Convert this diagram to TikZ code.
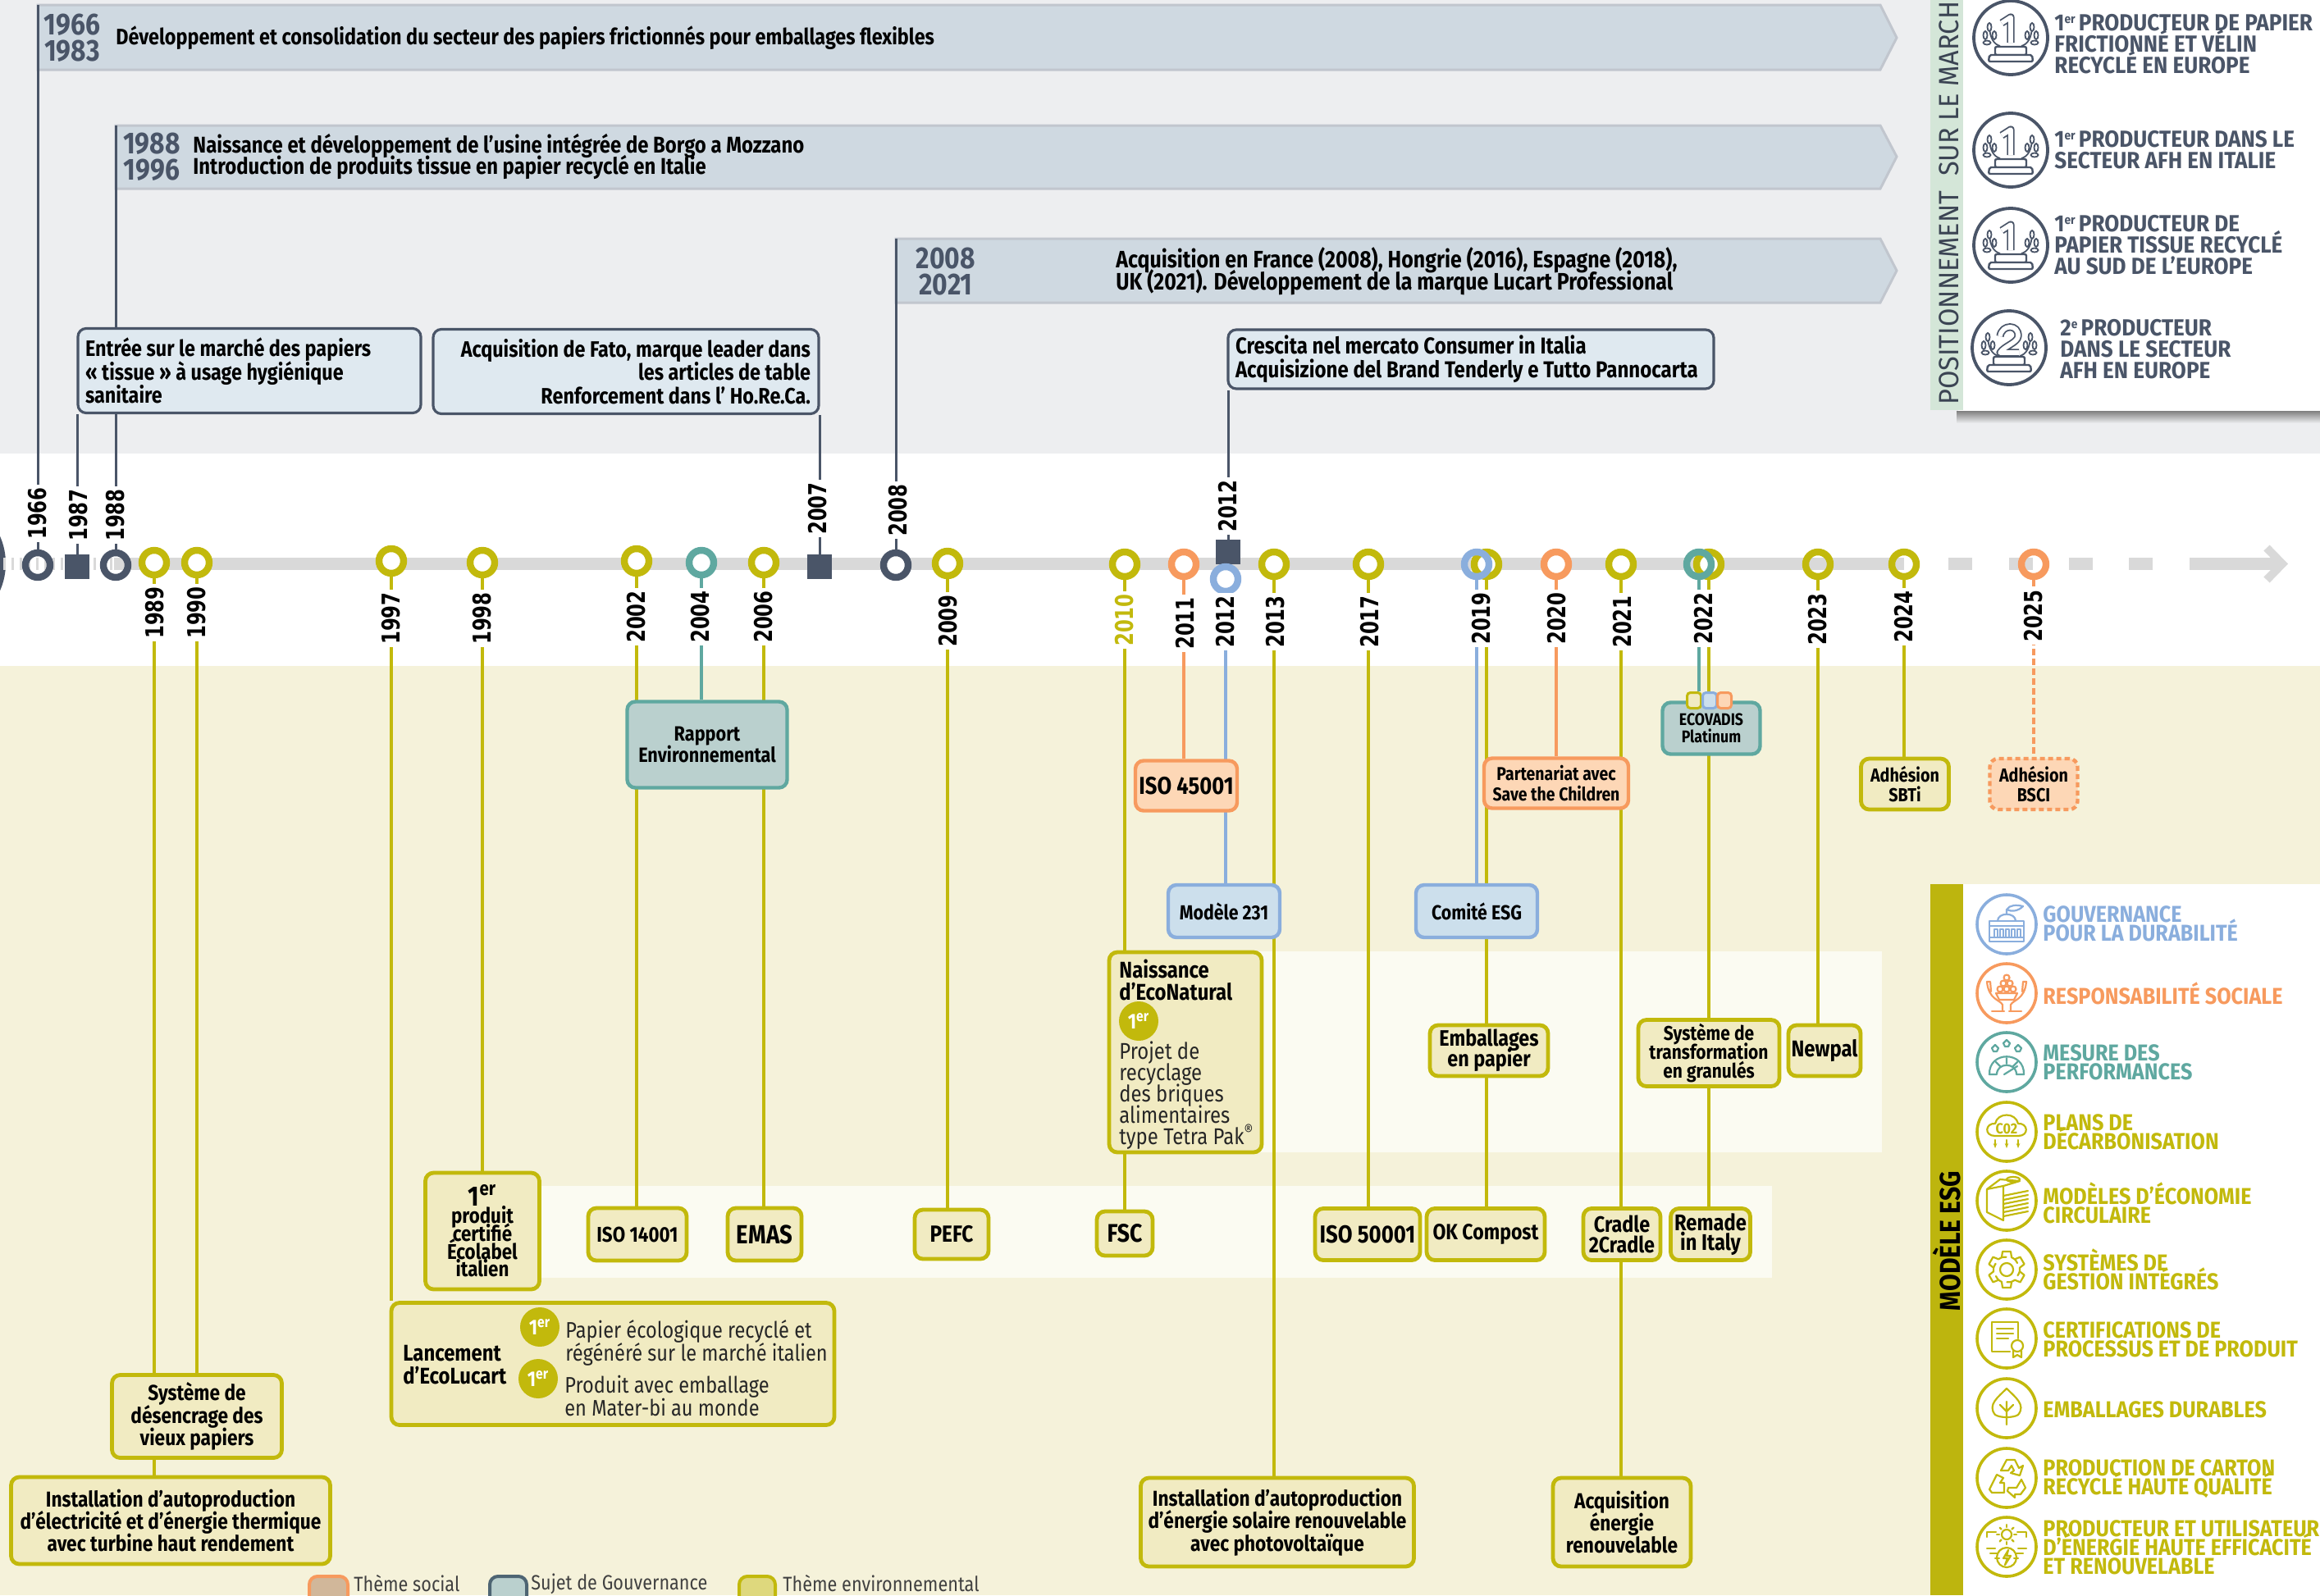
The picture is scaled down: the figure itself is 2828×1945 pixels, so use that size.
\documentclass[tikz,border=0pt]{standalone}
\usepackage{fontspec}
\setmainfont[FakeStretch=0.86]{Fira Sans}
\newfontfamily\yearfont[FakeStretch=0.76]{DejaVu Sans}
\newfontfamily\panelfont[FakeStretch=0.92]{Fira Sans}
\newfontfamily\posfont[FakeStretch=0.955]{Fira Sans}
\newfontfamily\esgfont[FakeStretch=0.90]{Fira Sans}
\usetikzlibrary{arrows.meta}
\definecolor{slate}{HTML}{4A5568}
\definecolor{olive}{HTML}{C2B90C}
\definecolor{olivefill}{HTML}{F1EBC2}
\definecolor{strip}{HTML}{BDB50E}
\definecolor{orange}{HTML}{F79A5E}
\definecolor{orangefill}{HTML}{FDD7B6}
\definecolor{sky}{HTML}{8AAEDD}
\definecolor{skyfill}{HTML}{CCDFEC}
\definecolor{teal}{HTML}{5FA8A0}
\definecolor{tealfill}{HTML}{BAD0CE}
\definecolor{topband}{HTML}{EDEEF0}
\definecolor{lowband}{HTML}{F5F2DA}
\definecolor{paleband}{HTML}{FBFBF2}
\definecolor{chevfill}{HTML}{CFD9E1}
\definecolor{chevline}{HTML}{C1C6CE}
\definecolor{topfill}{HTML}{DFE9F0}
\definecolor{axisgrey}{HTML}{D9D9D9}
\definecolor{posband}{HTML}{D4E6D8}
\pgfdeclarelayer{bands}
\pgfdeclarelayer{links}
\pgfsetlayers{bands,links,main}
\newcommand{\tinysup}[1]{\raisebox{.62ex}{\fontsize{7.5}{7.5}\selectfont #1}\hspace{-1pt}}
\newcommand{\fsp}[2]{\fontsize{#1}{#2}\selectfont\lineskiplimit=-20pt\relax}
\newcommand{\fsz}[2]{\fsp{#1}{#2}\bfseries}
\tikzset{
    size/.style 2 args={minimum width=#1*0.5pt, minimum height=#2*0.5pt},
    boxbase/.style={rectangle, rounded corners=5pt, inner sep=0pt, align=center,
        text=black, font=\fsz{13.2}{13.6}},
    greenbox/.style={boxbase, draw=olive, fill=olivefill, line width=2.4pt},
    peachbox/.style={boxbase, draw=orange, fill=orangefill, line width=2.2pt},
    bluebox/.style={boxbase, draw=sky, fill=skyfill, line width=2.2pt},
    tealbox/.style={boxbase, draw=teal, fill=tealfill, line width=2.2pt},
    topbox/.style={boxbase, draw=slate, fill=topfill, line width=1.6pt,
        font=\fsz{13.6}{14.4}},
    tag/.style={rectangle, rounded corners=2pt, inner sep=0pt, line width=1.5pt,
        minimum width=8.5pt, minimum height=9.5pt},
    ring/.style={circle, draw=#1, line width=4.2pt, minimum size=15pt, inner sep=0pt},
    squaremark/.style={rectangle, fill=slate, minimum size=15pt, inner sep=0pt},
    yearlabel/.style={rotate=90, fill=white, inner sep=1.5pt, text=black,
        font=\yearfont\fsz{15}{15}},
    glink/.style={draw=olive, line width=1.7pt},
    olink/.style={draw=orange, line width=1.6pt},
    blink/.style={draw=sky, line width=1.6pt},
    tlink/.style={draw=teal, line width=1.6pt},
    slink/.style={draw=slate, line width=1.5pt},
    chevron/.style={fill=chevfill, draw=chevline, line width=1.5pt},
    cheyear/.style={text=slate, inner sep=0pt, align=center, font=\fsz{18.5}{16}},
    chetext/.style={text=black, anchor=west, inner sep=0pt, align=left, font=\fsz{13.6}{14}},
    badge/.style={circle, fill=olive, text=white, minimum size=24pt, inner sep=0pt,
        font=\fsz{13}{13}},
    plaintext/.style={anchor=west, inner sep=0pt, align=left, text=black!85,
        font=\fsp{13.7}{14}},
    boldtext/.style={anchor=west, inner sep=0pt, align=left, text=black, font=\fsz{13.9}{13.6}},
    rank/.style={anchor=west, inner sep=0pt, align=left, text=slate,
        font=\panelfont\fsz{14.2}{13}},
    esgtext/.style={anchor=west, inner sep=0pt, align=left, text=#1,
        font=\esgfont\fsz{14}{11.5}},
    esgdisc/.style={circle, draw=#1, line width=1.8pt, fill=white, minimum size=36pt, inner sep=0pt},
    legendtext/.style={anchor=west, inner sep=0pt, text=black!75,
        font=\fontsize{12.6}{12}\selectfont},
    icon/.style={line width=1.1pt, line join=round, line cap=round},
    medal/.pic={
        \draw[slate, line width=1.9pt, fill=white] (0,0) circle (45);
        \draw[slate, line width=4.6pt, line join=round] #1;
        \draw[white, line width=2.8pt, line join=round] #1;
        \draw[slate, line width=1.2pt, fill=white, rounded corners=1pt] (-19,11) rectangle (19,21);
        \draw[slate, line width=1.2pt, fill=white, rounded corners=1pt] (-26,21) -- (26,21) -- (27,29) -- (-27,29) -- cycle;
        \foreach \side in {-1,1} {
            \draw[slate, line width=.9pt] (\side*13,10) .. controls (\side*21,8) and (\side*25,0) .. (\side*26,-12);
            \draw[slate, line width=.9pt, fill=white] (\side*26,-13) ellipse (2.5 and 5);
            \draw[slate, line width=.9pt, fill=white] (\side*31,-3) ellipse (2.5 and 5);
            \draw[slate, line width=.9pt, fill=white] (\side*20,-3) ellipse (2.5 and 5);
            \draw[slate, line width=.9pt, fill=white] (\side*29,6) ellipse (4.5 and 2.5);
        }
    }
}
\begin{document}
\begin{tikzpicture}[x=0.5pt, y=-0.5pt]
    \useasboundingbox (0,0) rectangle (2828,1945);
    \clip (0,0) rectangle (2828,1945);

    % background bands
    \begin{pgfonlayer}{bands}
    \fill[white] (0,0) rectangle (2828,1945);
    \fill[topband] (0,0) rectangle (2828,553);
    \fill[lowband] (0,812) rectangle (2828,1945);
    \fill[paleband] (1400,1160) rectangle (2294,1405);
    \fill[paleband] (640,1446) rectangle (2160,1558);
    \fill[slate] (-75,687) circle (82);

    % long periods
    \path[chevron] (46,6) -- (2292,6) -- (2312,46) -- (2292,85) -- (46,85) -- cycle;
    \path[chevron] (141,153) -- (2292,153) -- (2312,191) -- (2292,230) -- (141,230) -- cycle;
    \path[chevron] (1092,291) -- (2292,291) -- (2312,330) -- (2292,369) -- (1092,369) -- cycle;

    % axis
    \foreach \xx in {4,14,...,134} {
        \fill[axisgrey] (\xx,680) rectangle (\xx+3,695);
    }
    \fill[axisgrey] (139,680) rectangle (2321,695);
    \foreach \xx in {2375,2449,2522,2595} {
        \fill[axisgrey] (\xx,680) rectangle (\xx+29,695);
    }
    \fill[axisgrey] (2669,680) rectangle (2782,695);
    \draw[axisgrey, line width=5pt, miter limit=4] (2763,668) -- (2782,687.5) -- (2763,707);
    \end{pgfonlayer}

    \coordinate (start1966) at (46,6);
    \coordinate (start1988) at (141,153);
    \coordinate (start2008) at (1092,291);

    \node[cheyear] (per1966) at (88,46) {1966\\1983};
    \node[chetext] (txt1966) at (141,46) {Développement et consolidation du secteur des papiers frictionnés pour emballages flexibles};
    \node[cheyear] (per1988) at (185,191) {1988\\1996};
    \node[chetext, font=\fsz{13.9}{13.4}] (txt1988) at (235,191) {Naissance et développement de l’usine intégrée de Borgo a Mozzano\\Introduction de produits tissue en papier recyclé en Italie};
    \node[cheyear] (per2008) at (1153,331) {2008\\2021};
    \node[chetext, font=\fsz{14.5}{13.6}] (txt2008) at (1360,331) {Acquisition en France (2008), Hongrie (2016), Espagne (2018),\\UK (2021). Développement de la marque Lucart Professional};

    % upper boxes
    \node[topbox, size={418}{103}, align=flush left, text width=200pt] (entree) at (304,452) {Entrée sur le marché des papiers\\« tissue » à usage hygiénique\\sanitaire};
    \node[topbox, size={470}{103}, align=flush right, text width=225pt] (fato) at (763,453) {Acquisition de Fato, marque leader dans\\les articles de table\\Renforcement dans l’ Ho.Re.Ca.};
    \node[topbox, size={592}{72}, align=flush left, text width=287pt, font=\fsz{14}{14.6}] (crescita) at (1793,438) {Crescita nel mercato Consumer in Italia\\Acquisizione del Brand Tenderly e Tutto Pannocarta};

    % markers on the axis
    \node[ring=slate] (y1966) at (46,689) {};
    \node[squaremark] (y1987) at (94,691) {};
    \node[ring=slate] (y1988) at (141,689) {};
    \node[ring=olive, fill=white] (y1989) at (188,686) {};
    \node[ring=olive, fill=white] (y1990) at (240,686) {};
    \node[ring=olive, fill=white] (y1997) at (477,684) {};
    \node[ring=olive, fill=white] (y1998) at (588,686) {};
    \node[ring=olive, fill=white] (y2002) at (776,684) {};
    \node[ring=teal, fill=white] (y2004) at (855,686) {};
    \node[ring=olive, fill=white] (y2006) at (931,686) {};
    \node[squaremark] (y2007) at (999,691) {};
    \node[ring=slate, fill=white] (y2008) at (1092,689) {};
    \node[ring=olive, fill=white] (y2009) at (1155,687) {};
    \node[ring=olive, fill=white] (y2010) at (1371,688) {};
    \node[ring=orange, fill=white] (y2011) at (1443,688) {};
    \node[squaremark] (y2012a) at (1497,673) {};
    \node[ring=sky, fill=white] (y2012b) at (1494,706) {};
    \node[ring=olive, fill=white] (y2013) at (1553,688) {};
    \node[ring=olive, fill=white] (y2017) at (1668,688) {};
    \node[ring=olive, fill=white] (y2019b) at (1812,688) {};
    \node[ring=sky] (y2019a) at (1800,688) {};
    \node[ring=orange, fill=white] (y2020) at (1897,688) {};
    \node[ring=olive, fill=white] (y2021) at (1976,688) {};
    \node[ring=olive, fill=white] (y2022b) at (2083,688) {};
    \node[ring=teal] (y2022a) at (2071,688) {};
    \node[ring=olive] (y2023) at (2216,688) {};
    \node[ring=olive] (y2024) at (2321,688) {};
    \node[ring=orange] (y2025) at (2479,688) {};

    % years
    \node[yearlabel] (t1966) at (46,626) {1966};
    \node[yearlabel] (t1987) at (96,628) {1987};
    \node[yearlabel] (t1988) at (141,628) {1988};
    \node[yearlabel] (t1989) at (189,747) {1989};
    \node[yearlabel] (t1990) at (240,747) {1990};
    \node[yearlabel] (t1997) at (477,754) {1997};
    \node[yearlabel] (t1998) at (588,754) {1998};
    \node[yearlabel] (t2002) at (776,752) {2002};
    \node[yearlabel] (t2004) at (854,752) {2004};
    \node[yearlabel] (t2006) at (931,752) {2006};
    \node[yearlabel] (t2007) at (997,620) {2007};
    \node[yearlabel] (t2008) at (1095,622) {2008};
    \node[yearlabel] (t2009) at (1156,757) {2009};
    \node[yearlabel, text=olive] (t2010) at (1371,756) {2010};
    \node[yearlabel] (t2011) at (1445,760) {2011};
    \node[yearlabel] (t2012a) at (1497,617) {2012};
    \node[yearlabel] (t2012b) at (1494,758) {2012};
    \node[yearlabel] (t2013) at (1555,758) {2013};
    \node[yearlabel] (t2017) at (1670,758) {2017};
    \node[yearlabel] (t2019) at (1806,754) {2019};
    \node[yearlabel] (t2020) at (1898,754) {2020};
    \node[yearlabel] (t2021) at (1978,758) {2021};
    \node[yearlabel] (t2022) at (2077,754) {2022};
    \node[yearlabel] (t2023) at (2216,755) {2023};
    \node[yearlabel] (t2024) at (2321,752) {2024};
    \node[yearlabel] (t2025) at (2479,751) {2025};

    % lower boxes
    \node[tealbox, size={195}{105}, font=\fsz{12.6}{13.2}] (rapport) at (862,908) {Rapport\\Environnemental};
    \node[peachbox, size={124}{61}, font=\fsz{14.9}{14}] (iso45001) at (1446,958) {ISO 45001};
    \node[peachbox, size={176}{61}, font=\fsz{11.3}{12.2}] (partenariat) at (1897,955) {Partenariat avec\\Save the Children};
    \node[tealbox, size={119}{63}, font=\fsz{10.3}{10.6}] (ecovadis) at (2086,888) {ECOVADIS\\Platinum};
    \node[tag, draw=olive, fill=olivefill] (tagg) at (2065,854) {};
    \node[tag, draw=sky, fill=skyfill] (tagb) at (2084,854) {};
    \node[tag, draw=orange, fill=orangefill] (tago) at (2102,854) {};
    \node[greenbox, size={107}{62}, font=\fsz{11.5}{12.4}] (sbti) at (2322,956) {Adhésion\\SBTi};
    \node[peachbox, dash pattern=on 3pt off 2pt, size={107}{62}, font=\fsz{11.5}{12.4}] (bsci) at (2479,956) {Adhésion\\BSCI};
    \node[bluebox, size={136}{64}, font=\fsz{12.4}{12.4}] (modele) at (1492,1111) {Modèle 231};
    \node[bluebox, size={148}{64}, font=\fsz{12.4}{12.4}] (comite) at (1800,1111) {Comité ESG};
    \node[greenbox, size={186}{244}] (econatural) at (1445,1283) {};
    \node[boldtext] (econame) at (1364,1195) {Naissance\\d’EcoNatural};
    \node[badge] (ecobadge) at (1388,1245) {1\textsuperscript{er}};
    \node[plaintext, font=\fsp{13.9}{13}] (ecotext) at (1364,1336) {Projet de\\recyclage\\des briques\\alimentaires\\type Tetra Pak\textsuperscript{®}};
    \node[greenbox, size={144}{62}, font=\fsz{13.6}{12.6}] (emballages) at (1815,1281) {Emballages\\en papier};
    \node[greenbox, size={172}{81}, font=\fsz{12.2}{11.6}] (granules) at (2083,1284) {Système de\\transformation\\en granulés};
    \node[greenbox, size={88}{62}, font=\fsz{13.9}{13}] (newpal) at (2224,1281) {Newpal};
    \node[greenbox, size={68}{54}, font=\fsz{15.5}{15}] (fsc) at (1371,1504) {FSC};
    \node[greenbox, size={128}{63}, font=\fsz{15}{15}] (iso50001) at (1667,1505) {ISO 50001};
    \node[greenbox, size={144}{63}, font=\fsz{13.4}{14}] (okcompost) at (1811,1505) {OK Compost};
    \node[greenbox, size={94}{63}, font=\fsz{13.6}{12.2}] (cradle) at (1977,1505) {Cradle\\2Cradle};
    \node[greenbox, size={97}{63}, font=\fsz{13.8}{12.2}] (remade) at (2085,1505) {Remade\\in Italy};
    \node[greenbox, size={333}{108}] (solaire) at (1557,1856) {Installation d’autoproduction\\d’énergie solaire renouvelable\\avec photovoltaïque};
    \node[greenbox, size={168}{108}] (acquisition) at (1977,1856) {Acquisition\\énergie\\renouvelable};
    \node[greenbox, size={139}{142}, font=\fsz{13}{10.8}] (produit) at (588,1501) {{\fontsize{17}{14}\selectfont 1\textsuperscript{er}}\\produit\\certifié\\Écolabel\\italien};
    \node[greenbox, size={120}{64}, font=\fsz{13}{13}] (iso14001) at (777,1505) {ISO 14001};
    \node[greenbox, size={90}{64}, font=\fsz{16}{15}] (emas) at (932,1505) {EMAS};
    \node[greenbox, size={90}{60}, font=\fsz{14.2}{14}] (pefc) at (1160,1505) {PEFC};
    \node[greenbox, size={540}{149}] (ecolucart) at (747,1663) {};
    \node[boldtext] (luname) at (491,1664) {Lancement\\d’EcoLucart};
    \node[badge] (lubadge) at (658,1618) {1\textsuperscript{er}};
    \node[badge] (lubadgeb) at (656,1681) {1\textsuperscript{er}};
    \node[plaintext] (lutext) at (689,1637) {Papier écologique recyclé et\\régénéré sur le marché italien};
    \node[plaintext] (lutextb) at (688,1702) {Produit avec emballage\\en Mater-bi au monde};
    \node[greenbox, size={207}{101}] (desencrage) at (240,1727) {Système de\\désencrage des\\vieux papiers};
    \node[greenbox, size={389}{106}] (turbine) at (208,1854) {Installation d’autoproduction\\d’électricité et d’énergie thermique\\avec turbine haut rendement};

    % connectors
    \begin{pgfonlayer}{links}
    \draw[slink] (y1966) -- (start1966);
    \draw[slink] (y1987) -- (y1987 |- entree.south);
    \draw[slink] (y1988) -- (start1988);
    \draw[slink] (y2007) -- (y2007 |- fato.south);
    \draw[slink] (y2008) -- (start2008);
    \draw[slink] (y2012a) -- (y2012a |- crescita.south);
    \draw[glink] (y1989) -- (y1989 |- turbine.north);
    \draw[glink] (y1990) -- (y1990 |- desencrage.north);
    \draw[glink] (y1997) -- (y1997 |- ecolucart.north);
    \draw[glink] (y1998) -- (y1998 |- produit.north);
    \draw[glink] (y2002) -- (y2002 |- iso14001.north);
    \draw[tlink] (y2004) -- (y2004 |- rapport.north);
    \draw[glink] (y2006) -- (y2006 |- emas.north);
    \draw[glink] (y2009) -- (y2009 |- pefc.north);
    \draw[glink] (y2010) -- (y2010 |- fsc.north);
    \draw[olink] (y2011) -- (y2011 |- iso45001.north);
    \draw[blink] (y2012b) -- (y2012b |- modele.north);
    \draw[glink] (y2013) -- (y2013 |- solaire.north);
    \draw[glink] (y2017) -- (y2017 |- iso50001.north);
    \draw[blink] (y2019a) -- (y2019a |- comite.north);
    \draw[glink] (y2019b) -- (y2019b |- okcompost.north);
    \draw[olink] (y2020) -- (y2020 |- partenariat.north);
    \draw[glink] (y2021) -- (y2021 |- acquisition.north);
    \draw[tlink] (y2022a) -- (y2022a |- tagg.north);
    \draw[glink] (y2022b) -- (y2022b |- remade.north);
    \draw[glink] (y2023) -- (y2023 |- newpal.north);
    \draw[glink] (y2024) -- (y2024 |- sbti.north);
    \draw[olink, dash pattern=on 4pt off 2pt] (y2025) -- (y2025 |- bsci.north);
    \end{pgfonlayer}

    % legend
    \draw[orange, fill=orange!30!lowband!85!black, line width=2pt, rounded corners=5pt] (377,1922) rectangle (424,1960);
    \node[legendtext] (legsocial) at (431,1931) {Thème social};
    \draw[slate!80!teal, fill=tealfill, line width=2pt, rounded corners=5pt] (597,1922) rectangle (642,1960);
    \node[legendtext] (leggouv) at (647,1931) {Sujet de Gouvernance};
    \draw[olive, fill=olive!45!lowband, line width=2pt, rounded corners=5pt] (901,1922) rectangle (945,1960);
    \node[legendtext] (legenv) at (954,1931) {Thème environnemental};

    % market panel
    \shade[top color=black!50, bottom color=topband] (2385,501) rectangle (2828,516);
    \fill[white] (2387,0) rectangle (2828,501);
    \fill[posband] (2353,0) rectangle (2393,500);
    \node[rotate=90, anchor=west, inner sep=0pt, text=slate!80!black, font=\posfont\fontsize{17}{17}\selectfont] (posmarche) at (2372,494) {POSITIONNEMENT\hspace{9pt}SUR LE MARCHÉ};
    \pic at (2451,46) {medal={(-11,-18)--(0,-25)--(0,6)}};
    \pic at (2451,183) {medal={(-11,-18)--(0,-25)--(0,6)}};
    \pic at (2451,299) {medal={(-11,-18)--(0,-25)--(0,6)}};
    \pic at (2449,424) {medal={(-11,-14) .. controls (-9,-29) and (12,-29) .. (11,-14) .. controls (10,-6) and (-6,-2) .. (-11,6) -- (12,6)}};
    \node[rank] (rank1) at (2504,54) {1\tinysup{er} PRODUCTEUR DE PAPIER\\FRICTIONNÉ ET VÉLIN\\RECYCLÉ EN EUROPE};
    \node[rank] (rank2) at (2504,183) {1\tinysup{er} PRODUCTEUR DANS LE\\SECTEUR AFH EN ITALIE};
    \node[rank] (rank3) at (2504,299) {1\tinysup{er} PRODUCTEUR DE\\PAPIER TISSUE RECYCLÉ\\AU SUD DE L’EUROPE};
    \node[rank] (rank4) at (2511,426) {2\tinysup{e} PRODUCTEUR\\DANS LE SECTEUR\\AFH EN EUROPE};

    % ESG panel
    \fill[white] (2393,1078) rectangle (2828,1945);
    \fill[strip] (2353,1078) rectangle (2393,1945);
    \node[rotate=90, inner sep=0pt, text=black, font=\fsz{17.5}{17.5}] (esgtitle) at (2373,1513) {MODÈLE ESG};

    \node[esgdisc=sky] (igouv) at (2446,1127) {};
    \node[esgdisc=orange] (isocial) at (2446,1211) {};
    \node[esgdisc=teal] (iperf) at (2446,1295) {};
    \node[esgdisc=olive] (ico2) at (2446,1380) {};
    \node[esgdisc=olive] (icirc) at (2446,1464) {};
    \node[esgdisc=olive] (igear) at (2446,1548) {};
    \node[esgdisc=olive] (icert) at (2446,1632) {};
    \node[esgdisc=olive] (ileaf) at (2446,1717) {};
    \node[esgdisc=olive] (icycle) at (2446,1802) {};
    \node[esgdisc=olive] (isun) at (2446,1886) {};

    % building
    \begin{scope}[shift={(igouv)}, icon, sky]
        \draw (-21,-4) -- (21,-4) -- (21,21) -- (-21,21) -- cycle;
        \draw (-21,2) -- (21,2) (-21,16) -- (21,16);
        \foreach \xx in {-15,-8,-1,6,13} {\draw (\xx,16) -- (\xx,6) -- (\xx+4,6) -- (\xx+4,16);}
        \draw (-11,-4) .. controls (-11,-15) and (11,-15) .. (11,-4);
        \draw (0,-13) -- (0,-18) .. controls (4,-24) and (12,-24) .. (20,-22) .. controls (14,-16) and (6,-15) .. (0,-18);
    \end{scope}
    % hands
    \begin{scope}[shift={(isocial)}, icon, orange]
        \foreach \side in {-1,1} {
            \draw (\side*5,22) -- (\side*5,14) .. controls (\side*8,8) and (\side*22,8) .. (\side*24,-14) -- (\side*20,-14) -- (\side*19,-2);
            \draw (\side*3,22) -- (\side*18,22);
        }
        \draw (-13,0) -- (13,0) -- (9,8) -- (-9,8) -- cycle;
        \foreach \xx/\yy in {-8/-5,0/-5,8/-5,-4/-12,4/-12,0/-19} {\draw (\xx,\yy) circle (3.5);}
    \end{scope}
    % gauge
    \begin{scope}[shift={(iperf)}, icon, teal]
        \draw (-21,15) .. controls (-22,-14) and (22,-14) .. (21,15) -- (12,15) .. controls (12,0) and (-12,0) .. (-12,15) -- cycle;
        \draw (0,-5) -- (0,2) (-13,0) -- (-8,5) (13,0) -- (8,5);
        \draw (-3,15) -- (13,5);
        \foreach \xx/\yy in {-14/-17,0/-23,14/-17} {\draw (\xx-4,\yy) -- (\xx,\yy-4) -- (\xx+4,\yy) -- (\xx+2,\yy+4) -- (\xx-2,\yy+4) -- cycle;}
    \end{scope}
    % cloud
    \begin{scope}[shift={(ico2)}, icon, olive]
        \draw (-14,5) .. controls (-28,5) and (-26,-11) .. (-14,-10) .. controls (-11,-24) and (11,-24) .. (14,-10) .. controls (26,-11) and (28,5) .. (14,5) -- cycle;
        \node[inner sep=0pt, text=olive, font=\esgfont\fsz{9}{9}] (co2) at (0,-4) {C02};
        \foreach \xx in {-14,0,14} {\draw[-{Stealth[length=3pt]}] (\xx,10) -- (\xx,20);}
    \end{scope}
    % paper stack
    \begin{scope}[shift={(icirc)}, icon, olive]
        \draw (-24,-14) -- (-4,-18) -- (-4,24) -- (-24,14) -- cycle;
        \draw (-24,-14) -- (-8,-26) -- (16,-24) -- (-4,-18);
        \foreach \yy in {-6,-1,...,19} {\draw (-4,\yy) -- (26,\yy-6);}
        \draw (8,-26) ellipse (8 and 3);
    \end{scope}
    % gear
    \begin{scope}[shift={(igear)}, icon, olive]
        \foreach \ang in {0,60,...,300} {
            \draw[rotate=\ang] (-6,-15) -- (-5,-22) -- (5,-22) -- (6,-15) .. controls (9,-14) and (11,-12) .. (13,-8);
        }
        \draw (0,0) circle (8);
    \end{scope}
    % certificate
    \begin{scope}[shift={(icert)}, icon, olive]
        \draw (4,16) -- (-18,16) -- (-18,-20) -- (14,-20) -- (14,0);
        \draw (-12,-12) -- (8,-12) (-12,-6) -- (8,-6) (-12,0) -- (2,0);
        \draw (13,9) circle (7);
        \draw (8,15) -- (8,23) -- (13,20) -- (18,23) -- (18,15);
    \end{scope}
    % leaf
    \begin{scope}[shift={(ileaf)}, icon, olive]
        \draw (0,-24) .. controls (-10,-14) and (-24,-4) .. (-14,8) .. controls (-8,12) and (8,12) .. (14,8) .. controls (24,-4) and (10,-14) .. (0,-24);
        \draw (0,-8) -- (0,20) (0,4) -- (-8,-4) (0,4) -- (8,-4);
    \end{scope}
    % recycling
    \begin{scope}[shift={(icycle)}, icon, olive]
        \draw (-7,-9) -- (0,-22) -- (10,-22) -- (15,-12) -- (20,-15) -- (16,-3) -- (5,-6) -- (9,-9) -- (6,-15) -- (2,-9) -- cycle;
        \draw (-21,14) -- (-12,-4) -- (-4,0) -- (-8,6) -- (-3,6) -- (-3,18) -- (-18,18) -- cycle;
        \draw (2,12) -- (12,12) -- (18,2) -- (23,12) -- (17,20) -- (10,20) -- (10,24) -- (1,16) -- cycle;
    \end{scope}
    % sun and bolt
    \begin{scope}[shift={(isun)}, icon, olive]
        \draw (0,-15) circle (6);
        \foreach \ang in {0,45,...,315} {\draw[shift={(0,-15)}, rotate=\ang] (0,9) -- (0,12);}
        \draw (-24,2) -- (-14,2) (14,2) -- (24,2) (-20,8) -- (-12,8) (12,8) -- (20,8) (-14,14) -- (-9,14) (9,14) -- (14,14);
        \draw (0,13) circle (12);
        \draw (2,4) -- (-4,14) -- (1,14) -- (-2,22) -- (5,11) -- (0,11) -- cycle;
        \draw (-24,-12) -- (-24,-18) -- (-13,-18) (24,-12) -- (24,-18) -- (13,-18);
    \end{scope}

    \node[esgtext=sky] (tgouv) at (2490,1126) {GOUVERNANCE\\POUR LA DURABILITÉ};
    \node[esgtext=orange] (tsocial) at (2490,1211) {RESPONSABILITÉ SOCIALE};
    \node[esgtext=teal] (tperf) at (2490,1295) {MESURE DES\\PERFORMANCES};
    \node[esgtext=olive] (tco2) at (2490,1380) {PLANS DE\\DÉCARBONISATION};
    \node[esgtext=olive] (tcirc) at (2490,1467) {MODÈLES D’ÉCONOMIE\\CIRCULAIRE};
    \node[esgtext=olive] (tgear) at (2490,1548) {SYSTÈMES DE\\GESTION INTÉGRÉS};
    \node[esgtext=olive] (tcert) at (2490,1633) {CERTIFICATIONS DE\\PROCESSUS ET DE PRODUIT};
    \node[esgtext=olive] (tleaf) at (2490,1719) {EMBALLAGES DURABLES};
    \node[esgtext=olive] (tcycle) at (2490,1803) {PRODUCTION DE CARTON\\RECYCLÉ HAUTE QUALITÉ};
    \node[esgtext=olive] (tsun) at (2490,1887) {PRODUCTEUR ET UTILISATEUR\\D’ÉNERGIE HAUTE EFFICACITÉ\\ET RENOUVELABLE};
\end{tikzpicture}
\end{document}
